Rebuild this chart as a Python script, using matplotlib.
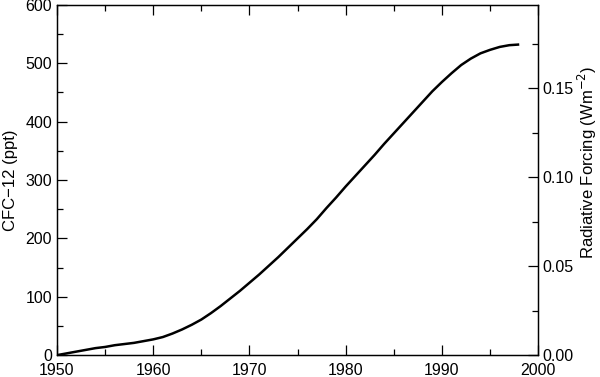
import numpy as np
import matplotlib
matplotlib.use('Agg')
import matplotlib.pyplot as plt
from matplotlib.ticker import MultipleLocator

plt.rcParams['font.family'] = ['Liberation Sans', 'DejaVu Sans']

years = [1950, 1951, 1952, 1953, 1954, 1955, 1956, 1957, 1958, 1959,
         1960, 1961, 1962, 1963, 1964, 1965, 1966, 1967, 1968, 1969,
         1970, 1971, 1972, 1973, 1974, 1975, 1976, 1977, 1978, 1979,
         1980, 1981, 1982, 1983, 1984, 1985, 1986, 1987, 1988, 1989,
         1990, 1991, 1992, 1993, 1994, 1995, 1996, 1997, 1997.9]
cfc12 = [0, 3, 6, 9, 12, 14, 17, 19, 21, 24,
         27, 31, 37, 44, 52, 61, 72, 84, 97, 110,
         124, 138, 153, 168, 184, 200, 216, 233, 252, 270,
         289, 307, 325, 343, 362, 380, 398, 416, 434, 452,
         468, 483, 497, 508, 517, 523, 528, 531, 532]

rf_top = 0.197  # forcing at 600 ppt

fig = plt.figure(figsize=(6.0, 3.77), dpi=100)
ax = fig.add_axes([0.095, 0.058, 0.802, 0.929])
ax.plot(years, cfc12, color='black', lw=1.8, solid_joinstyle='round')

ax.set_xlim(1950, 2000)
ax.set_ylim(0, 600)
ax.xaxis.set_major_locator(MultipleLocator(10))
ax.xaxis.set_minor_locator(MultipleLocator(5))
ax.yaxis.set_major_locator(MultipleLocator(100))
ax.yaxis.set_minor_locator(MultipleLocator(50))
ax.tick_params(which='both', direction='in', top=True, right=False,
               labelsize=11.5, width=0.9)
ax.tick_params(axis='x', pad=6)
ax.tick_params(which='major', length=7)
ax.tick_params(which='minor', length=4)
ax.set_ylabel('CFC\u221212 (ppt)', fontsize=12, labelpad=5)

ax2 = ax.twinx()
ax2.set_ylim(0, rf_top)
ax2.yaxis.set_major_locator(MultipleLocator(0.05))
ax2.yaxis.set_minor_locator(MultipleLocator(0.025))
ax2.yaxis.set_major_formatter(lambda v, p: f'{v:.2f}')
ax2.tick_params(which='both', direction='in', labelsize=11.5, width=0.9, pad=3)
ax2.tick_params(which='major', length=7)
ax2.tick_params(which='minor', length=4)
ax2.set_ylabel('Radiative Forcing (Wm$^{-2}$)', fontsize=12)
ax2.yaxis.set_label_coords(1.079, 0.55)

for a in (ax, ax2):
    for s in a.spines.values():
        s.set_linewidth(0.9)

fig.savefig('out.png', dpi=100)
